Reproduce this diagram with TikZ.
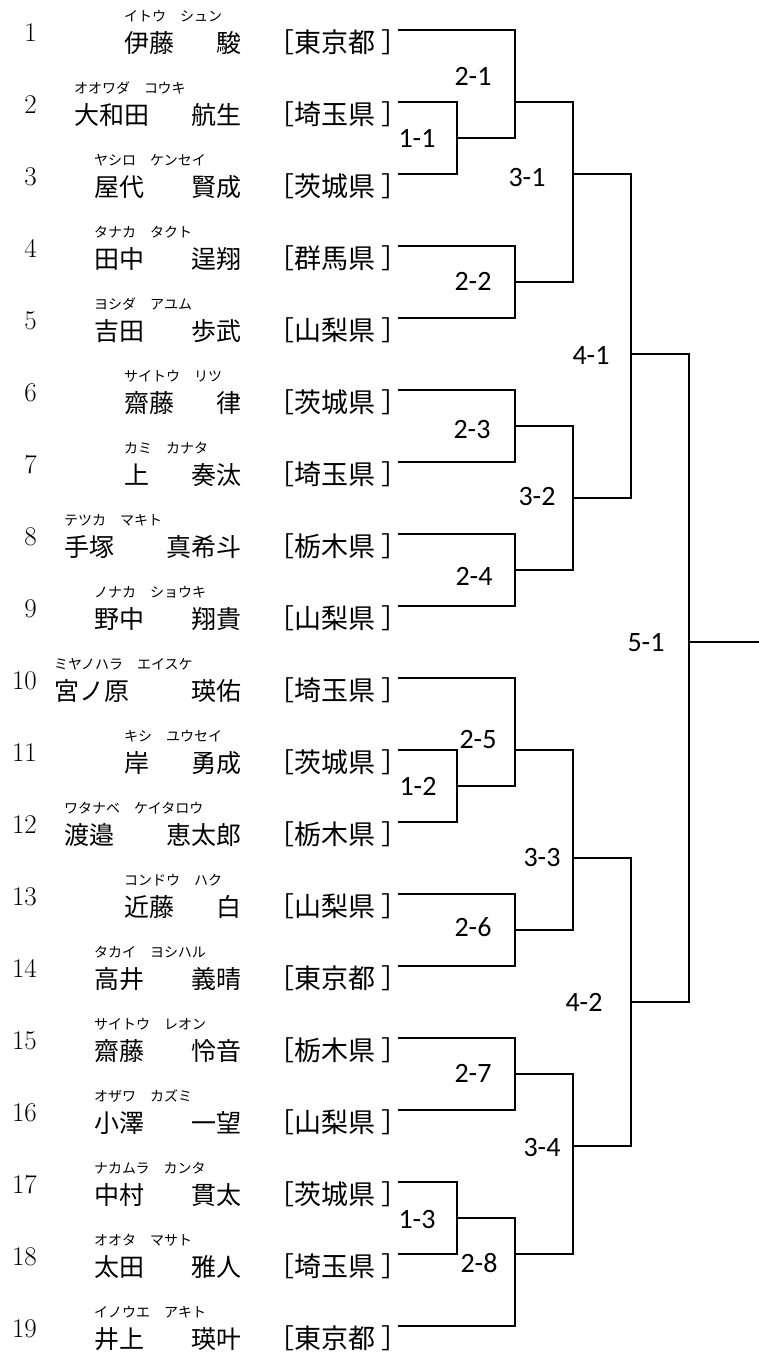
\documentclass[tikz,border=0pt]{standalone}
\usepackage{fontspec}
\newfontfamily\jpfont{Noto Sans CJK JP}
\newfontfamily\matchfont{Carlito}
\newcommand{\closebr}{\kern6pt］}

\begin{document}
\begin{tikzpicture}[x = 1pt, y = -1pt]
\tikzstyle{NumStyle}=[anchor = base east, inner sep = 0pt,
                      font = \fontsize{27}{27}\selectfont]
\tikzstyle{KanaStyle}=[anchor = base west, inner sep = 0pt,
                       font = \jpfont\fontsize{14}{14}\selectfont]
\tikzstyle{FamilyStyle}=[anchor = base west, inner sep = 0pt,
                         font = \jpfont\fontsize{25}{25}\selectfont]
\tikzstyle{GivenStyle}=[anchor = base east, inner sep = 0pt,
                        font = \jpfont\fontsize{25}{25}\selectfont]
\tikzstyle{PrefStyle}=[anchor = base west, inner sep = 0pt,
                       font = \jpfont\fontsize{27}{27}\selectfont]
\tikzstyle{MatchStyle}=[inner sep = 0pt, font = \matchfont\fontsize{28}{28}\selectfont]
\tikzstyle{LineStyle}=[line width = 1.3pt]
\useasboundingbox (0,0) rectangle (759,1353);
% entries
\node[NumStyle] (n1) at (37, 41) {1};
\node[KanaStyle] (k1) at (124, 21) {イトウ　シュン};
\node[FamilyStyle] (f1) at (124, 52) {伊藤};
\node[GivenStyle] (g1) at (242, 52) {駿};
\node[PrefStyle] (p1) at (267, 52) {［東京都\closebr};
\coordinate (e1) at (398, 30);
\node[NumStyle] (n2) at (37, 113) {2};
\node[KanaStyle] (k2) at (74, 93) {オオワダ　コウキ};
\node[FamilyStyle] (f2) at (74, 124) {大和田};
\node[GivenStyle] (g2) at (242, 124) {航生};
\node[PrefStyle] (p2) at (267, 124) {［埼玉県\closebr};
\coordinate (e2) at (398, 102);
\node[NumStyle] (n3) at (37, 185) {3};
\node[KanaStyle] (k3) at (94, 165) {ヤシロ　ケンセイ};
\node[FamilyStyle] (f3) at (94, 196) {屋代};
\node[GivenStyle] (g3) at (242, 196) {賢成};
\node[PrefStyle] (p3) at (267, 196) {［茨城県\closebr};
\coordinate (e3) at (398, 174);
\node[NumStyle] (n4) at (37, 257) {4};
\node[KanaStyle] (k4) at (94, 237) {タナカ　タクト};
\node[FamilyStyle] (f4) at (94, 268) {田中};
\node[GivenStyle] (g4) at (242, 268) {逞翔};
\node[PrefStyle] (p4) at (267, 268) {［群馬県\closebr};
\coordinate (e4) at (398, 246);
\node[NumStyle] (n5) at (37, 329) {5};
\node[KanaStyle] (k5) at (94, 309) {ヨシダ　アユム};
\node[FamilyStyle] (f5) at (94, 340) {吉田};
\node[GivenStyle] (g5) at (242, 340) {歩武};
\node[PrefStyle] (p5) at (267, 340) {［山梨県\closebr};
\coordinate (e5) at (398, 318);
\node[NumStyle] (n6) at (37, 401) {6};
\node[KanaStyle] (k6) at (124, 381) {サイトウ　リツ};
\node[FamilyStyle] (f6) at (124, 412) {齋藤};
\node[GivenStyle] (g6) at (242, 412) {律};
\node[PrefStyle] (p6) at (267, 412) {［茨城県\closebr};
\coordinate (e6) at (398, 390);
\node[NumStyle] (n7) at (37, 473) {7};
\node[KanaStyle] (k7) at (124, 453) {カミ　カナタ};
\node[FamilyStyle] (f7) at (124, 484) {上};
\node[GivenStyle] (g7) at (242, 484) {奏汰};
\node[PrefStyle] (p7) at (267, 484) {［埼玉県\closebr};
\coordinate (e7) at (398, 462);
\node[NumStyle] (n8) at (37, 545) {8};
\node[KanaStyle] (k8) at (64, 525) {テツカ　マキト};
\node[FamilyStyle] (f8) at (64, 556) {手塚};
\node[GivenStyle] (g8) at (242, 556) {真希斗};
\node[PrefStyle] (p8) at (267, 556) {［栃木県\closebr};
\coordinate (e8) at (398, 534);
\node[NumStyle] (n9) at (37, 617) {9};
\node[KanaStyle] (k9) at (94, 597) {ノナカ　ショウキ};
\node[FamilyStyle] (f9) at (94, 628) {野中};
\node[GivenStyle] (g9) at (242, 628) {翔貴};
\node[PrefStyle] (p9) at (267, 628) {［山梨県\closebr};
\coordinate (e9) at (398, 606);
\node[NumStyle] (n10) at (37, 689) {10};
\node[KanaStyle] (k10) at (54, 669) {ミヤノハラ　エイスケ};
\node[FamilyStyle] (f10) at (54, 700) {宮ノ原};
\node[GivenStyle] (g10) at (242, 700) {瑛佑};
\node[PrefStyle] (p10) at (267, 700) {［埼玉県\closebr};
\coordinate (e10) at (398, 678);
\node[NumStyle] (n11) at (37, 761) {11};
\node[KanaStyle] (k11) at (124, 741) {キシ　ユウセイ};
\node[FamilyStyle] (f11) at (124, 772) {岸};
\node[GivenStyle] (g11) at (242, 772) {勇成};
\node[PrefStyle] (p11) at (267, 772) {［茨城県\closebr};
\coordinate (e11) at (398, 750);
\node[NumStyle] (n12) at (37, 833) {12};
\node[KanaStyle] (k12) at (64, 813) {ワタナベ　ケイタロウ};
\node[FamilyStyle] (f12) at (64, 844) {渡邉};
\node[GivenStyle] (g12) at (242, 844) {恵太郎};
\node[PrefStyle] (p12) at (267, 844) {［栃木県\closebr};
\coordinate (e12) at (398, 822);
\node[NumStyle] (n13) at (37, 905) {13};
\node[KanaStyle] (k13) at (124, 885) {コンドウ　ハク};
\node[FamilyStyle] (f13) at (124, 916) {近藤};
\node[GivenStyle] (g13) at (242, 916) {白};
\node[PrefStyle] (p13) at (267, 916) {［山梨県\closebr};
\coordinate (e13) at (398, 894);
\node[NumStyle] (n14) at (37, 977) {14};
\node[KanaStyle] (k14) at (94, 957) {タカイ　ヨシハル};
\node[FamilyStyle] (f14) at (94, 988) {高井};
\node[GivenStyle] (g14) at (242, 988) {義晴};
\node[PrefStyle] (p14) at (267, 988) {［東京都\closebr};
\coordinate (e14) at (398, 966);
\node[NumStyle] (n15) at (37, 1049) {15};
\node[KanaStyle] (k15) at (94, 1029) {サイトウ　レオン};
\node[FamilyStyle] (f15) at (94, 1060) {齋藤};
\node[GivenStyle] (g15) at (242, 1060) {怜音};
\node[PrefStyle] (p15) at (267, 1060) {［栃木県\closebr};
\coordinate (e15) at (398, 1038);
\node[NumStyle] (n16) at (37, 1121) {16};
\node[KanaStyle] (k16) at (94, 1101) {オザワ　カズミ};
\node[FamilyStyle] (f16) at (94, 1132) {小澤};
\node[GivenStyle] (g16) at (242, 1132) {一望};
\node[PrefStyle] (p16) at (267, 1132) {［山梨県\closebr};
\coordinate (e16) at (398, 1110);
\node[NumStyle] (n17) at (37, 1193) {17};
\node[KanaStyle] (k17) at (94, 1173) {ナカムラ　カンタ};
\node[FamilyStyle] (f17) at (94, 1204) {中村};
\node[GivenStyle] (g17) at (242, 1204) {貫太};
\node[PrefStyle] (p17) at (267, 1204) {［茨城県\closebr};
\coordinate (e17) at (398, 1182);
\node[NumStyle] (n18) at (37, 1265) {18};
\node[KanaStyle] (k18) at (94, 1245) {オオタ　マサト};
\node[FamilyStyle] (f18) at (94, 1276) {太田};
\node[GivenStyle] (g18) at (242, 1276) {雅人};
\node[PrefStyle] (p18) at (267, 1276) {［埼玉県\closebr};
\coordinate (e18) at (398, 1254);
\node[NumStyle] (n19) at (37, 1337) {19};
\node[KanaStyle] (k19) at (94, 1317) {イノウエ　アキト};
\node[FamilyStyle] (f19) at (94, 1348) {井上};
\node[GivenStyle] (g19) at (242, 1348) {瑛叶};
\node[PrefStyle] (p19) at (267, 1348) {［東京都\closebr};
\coordinate (e19) at (398, 1326);
% match points
\coordinate (m11) at (457, 138);
\coordinate (m12) at (457, 786);
\coordinate (m13) at (457, 1218);
\coordinate (m21) at (515, 102);
\coordinate (m22) at (515, 282);
\coordinate (m23) at (515, 426);
\coordinate (m24) at (515, 570);
\coordinate (m25) at (515, 750);
\coordinate (m26) at (515, 930);
\coordinate (m27) at (515, 1074);
\coordinate (m28) at (515, 1254);
\coordinate (m31) at (573, 174);
\coordinate (m32) at (573, 498);
\coordinate (m33) at (573, 858);
\coordinate (m34) at (573, 1146);
\coordinate (m41) at (631, 354);
\coordinate (m42) at (631, 1002);
\coordinate (m51) at (689, 642);
\coordinate (win) at (759, 642);
% match labels
\node[MatchStyle] (l11) at (417, 138) {1-1};
\node[MatchStyle] (l12) at (418, 786) {1-2};
\node[MatchStyle] (l13) at (417, 1219) {1-3};
\node[MatchStyle] (l21) at (473, 76) {2-1};
\node[MatchStyle] (l22) at (473, 281) {2-2};
\node[MatchStyle] (l23) at (472, 430) {2-3};
\node[MatchStyle] (l24) at (474, 576) {2-4};
\node[MatchStyle] (l25) at (478, 739) {2-5};
\node[MatchStyle] (l26) at (473, 927) {2-6};
\node[MatchStyle] (l27) at (473, 1073) {2-7};
\node[MatchStyle] (l28) at (479, 1263) {2-8};
\node[MatchStyle] (l31) at (527, 178) {3-1};
\node[MatchStyle] (l32) at (537, 497) {3-2};
\node[MatchStyle] (l33) at (542, 857) {3-3};
\node[MatchStyle] (l34) at (542, 1147) {3-4};
\node[MatchStyle] (l41) at (591, 355) {4-1};
\node[MatchStyle] (l42) at (584, 1002) {4-2};
\node[MatchStyle] (l51) at (646, 643) {5-1};
% brackets
\draw[LineStyle] (e2) -| (m11) |- (e3);
\draw[LineStyle] (e11) -| (m12) |- (e12);
\draw[LineStyle] (e17) -| (m13) |- (e18);
\draw[LineStyle] (e1) -| (m21) |- (m11);
\draw[LineStyle] (e4) -| (m22) |- (e5);
\draw[LineStyle] (e6) -| (m23) |- (e7);
\draw[LineStyle] (e8) -| (m24) |- (e9);
\draw[LineStyle] (e10) -| (m25) |- (m12);
\draw[LineStyle] (e13) -| (m26) |- (e14);
\draw[LineStyle] (e15) -| (m27) |- (e16);
\draw[LineStyle] (m13) -| (m28) |- (e19);
\draw[LineStyle] (m21) -| (m31) |- (m22);
\draw[LineStyle] (m23) -| (m32) |- (m24);
\draw[LineStyle] (m25) -| (m33) |- (m26);
\draw[LineStyle] (m27) -| (m34) |- (m28);
\draw[LineStyle] (m31) -| (m41) |- (m32);
\draw[LineStyle] (m33) -| (m42) |- (m34);
\draw[LineStyle] (m41) -| (m51) |- (m42);
\draw[LineStyle] (m51) -- (win);
\end{tikzpicture}
\end{document}
